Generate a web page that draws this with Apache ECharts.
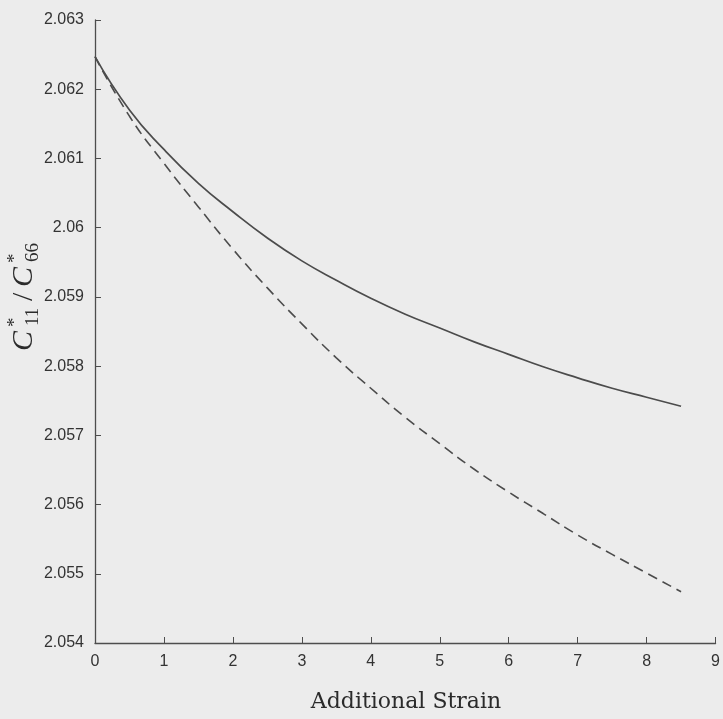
<!DOCTYPE html>
<html>
<head>
<meta charset="utf-8">
<script src="https://cdn.jsdelivr.net/npm/echarts@6/dist/echarts.min.js"></script>
<style>
  html, body { margin: 0; padding: 0; background: #ececec; }
  #chart { width: 723px; height: 719px; }
</style>
</head>
<body>
<div id="chart"></div>
<script>
// Additional strain values (x) shared by both curves
const strain = [0, 0.5, 1, 1.5, 2, 2.5, 3, 3.5, 4, 4.5, 5, 5.5, 6, 6.5, 7, 7.5, 8, 8.5];
// Modulus ratio C11*/C66* — solid curve
const ratioSolid = [2.06247, 2.06170, 2.06113, 2.06064, 2.06023, 2.05985, 2.05952, 2.05924,
                    2.05898, 2.05875, 2.05855, 2.05835, 2.05817, 2.05799, 2.05783, 2.05768,
                    2.05755, 2.05742];
// Modulus ratio C11*/C66* — dashed curve
const ratioDashed = [2.06247, 2.06161, 2.06093, 2.06030, 2.05969, 2.05913, 2.05861, 2.05812,
                     2.05768, 2.05726, 2.05688, 2.05651, 2.05618, 2.05587, 2.05556, 2.05528,
                     2.05501, 2.05474];
// Axis ranges and tick steps
const xRange = [0, 9, 1];
const yRange = [2.054, 2.063, 0.001];

const pair = (xs, ys) => xs.map((x, i) => [x, ys[i]]);

const axisColor = '#4d4d4d';
const lineColor = '#4c4c4c';
const textColor = '#2b2b2b';
const tickFont = { fontFamily: 'Liberation Sans, Arial, sans-serif', fontSize: 16, color: '#333' };

const chart = echarts.init(document.getElementById('chart'), null, { renderer: 'canvas' });

// y-axis title C*_11 / C*_66, laid out along a rotated baseline
const titleFontBig = 'italic 30px "Liberation Serif", serif';
const titleFontSmall = '19px "Liberation Serif", serif';
function piece(text, x, y, font) {
  return { type: 'text', x: x, y: y,
    style: { text: text, font: font, fill: textColor, align: 'left', verticalAlign: 'middle' } };
}

chart.setOption({
  backgroundColor: '#ececec',
  animation: false,
  grid: { left: 95, right: 6, top: 20, bottom: 76, containLabel: false },
  xAxis: {
    type: 'value',
    min: xRange[0], max: xRange[1], interval: xRange[2],
    axisLine: { show: true, lineStyle: { color: axisColor, width: 1.3 } },
    axisTick: { show: true, inside: true, length: 6, lineStyle: { color: axisColor, width: 1 } },
    axisLabel: Object.assign({ margin: 11 }, tickFont),
    splitLine: { show: false }
  },
  yAxis: {
    type: 'value',
    min: yRange[0], max: yRange[1], interval: yRange[2],
    axisLine: { show: true, lineStyle: { color: axisColor, width: 1.3 } },
    axisTick: { show: true, inside: true, length: 6, lineStyle: { color: axisColor, width: 1 } },
    axisLabel: Object.assign({
      margin: 11,
      formatter: v => String(parseFloat(v.toFixed(3)))
    }, tickFont),
    splitLine: { show: false }
  },
  series: [
    {
      type: 'line',
      data: pair(strain, ratioSolid),
      smooth: true,
      showSymbol: false,
      z: 3,
      lineStyle: { color: lineColor, width: 1.7, type: 'solid' }
    },
    {
      type: 'line',
      data: pair(strain, ratioDashed),
      smooth: true,
      showSymbol: false,
      z: 2,
      lineStyle: { color: lineColor, width: 1.6, type: [10, 6] }
    }
  ],
  graphic: [
    {
      type: 'text',
      x: 406, y: 702,
      style: {
        text: 'Additional Strain',
        font: '22px "DejaVu Serif", "Liberation Serif", serif',
        fill: textColor,
        align: 'center',
        verticalAlign: 'middle'
      }
    },
    {
      type: 'group',
      x: 24, y: 351,
      rotation: Math.PI / 2,
      children: [
        piece('C', 0, 0, titleFontBig),
        piece('*', 24, -9, titleFontSmall),
        piece('11', 25, 9, titleFontSmall),
        piece('/', 50, 0, '30px "Liberation Serif", serif'),
        piece('C', 64, 0, titleFontBig),
        piece('*', 88, -9, titleFontSmall),
        piece('66', 89, 9, titleFontSmall)
      ]
    }
  ]
});
</script>
</body>
</html>
